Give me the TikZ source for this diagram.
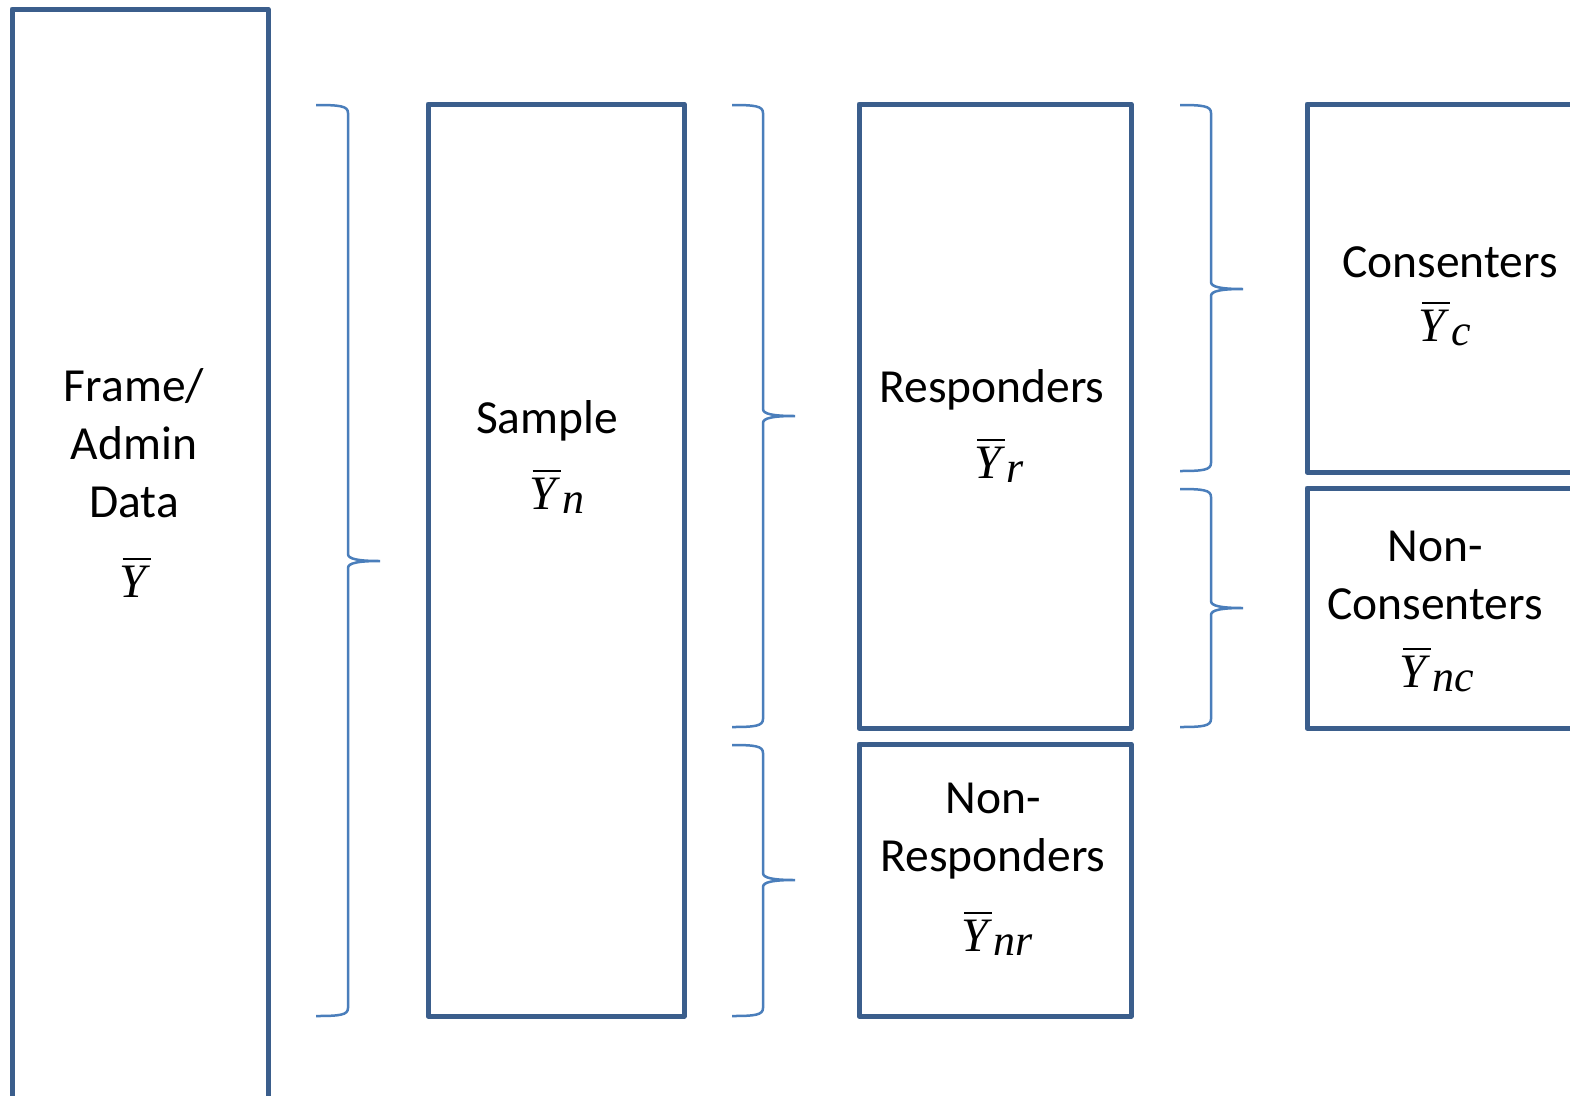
\documentclass[tikz,border=0pt]{standalone}
\usepackage{fontspec}
\setmainfont{Carlito}
\newfontfamily\yfont{Liberation Serif}
\definecolor{boxblue}{HTML}{3B5E8C}
\definecolor{braceblue}{HTML}{4A7EBB}
\newcommand\ybarsub[1]{\hbox{\rlap{\kern3pt\raisebox{38pt}{\rule{28pt}{1.6pt}}}{\yfont\itshape\fontsize{48}{48}\selectfont Y}\kern6pt\raisebox{-4pt}{\yfont\itshape\fontsize{44}{44}\selectfont #1}}}
\newcommand\curlybrace[6]{%
  \draw[bracestyle] (#1,#4) .. controls (#2-8,#4) and (#2,#4+1) .. (#2,#4+8)
    -- (#2,#5-7) .. controls (#2,#5-2) and (#2+10,#5) .. (#3,#5)
    .. controls (#2+10,#5) and (#2,#5+2) .. (#2,#5+7)
    -- (#2,#6-8) .. controls (#2,#6-1) and (#2-8,#6) .. (#1,#6);}
\begin{document}
\begin{tikzpicture}[x=1pt,y=-1pt,
  box/.style={draw=boxblue,line width=5pt,line join=round,inner sep=0pt},
  bracestyle/.style={draw=braceblue,line width=2.5pt},
  lbl/.style={font=\fontsize{47.5}{58}\selectfont,align=center,inner sep=0pt,text=black},
  ylbl/.style={inner sep=0pt,text=black}]
\useasboundingbox (0,0) rectangle (1570,1095);
\fill[white] (0,0) rectangle (1570,1095);
\clip (0,0) rectangle (1570,1095);
% boxes
\draw[box] (12,1120) rectangle (268,9);
\node[box,minimum width=256pt,minimum height=912pt] (sample) at (556,560) {};
\node[box,minimum width=272pt,minimum height=624pt] (resp) at (995,416) {};
\node[box,minimum width=272pt,minimum height=272pt] (nonresp) at (995,880) {};
\draw[box] (1600,104) rectangle (1307,472);
\draw[box] (1600,488) rectangle (1307,728);
% braces
\curlybrace{316}{348}{380}{105}{561}{1016}
\curlybrace{732}{763}{795}{105}{416}{727}
\curlybrace{732}{763}{795}{745}{880}{1016}
\curlybrace{1180}{1211}{1243}{105}{289}{471}
\curlybrace{1180}{1211}{1243}{489}{608}{727}
% texts
\node[lbl] (frametxt) at (134,443) {Frame/\\Admin\\Data};
\node[ylbl] (frameY) at (136,580) {\ybarsub{}};
\node[lbl] (sampletxt) at (547,421) {Sample};
\node[ylbl] (sampleY) at (557,492) {\ybarsub{n}};
\node[lbl] (resptxt) at (992,390) {Responders};
\node[ylbl] (respY) at (999,461) {\ybarsub{r}};
\node[lbl] (constxt) at (1450,262) {Consenters};
\node[ylbl] (consY) at (1445,324) {\ybarsub{c}};
\node[lbl] (nonconstxt) at (1435,575) {Non-\\Consenters};
\node[ylbl] (nonconsY) at (1437,670) {\ybarsub{nc}};
\node[lbl] (nonresptxt) at (993,831) {Non-\\Responders};
\node[ylbl] (nonrespY) at (997,934) {\ybarsub{nr}};
\end{tikzpicture}
\end{document}
